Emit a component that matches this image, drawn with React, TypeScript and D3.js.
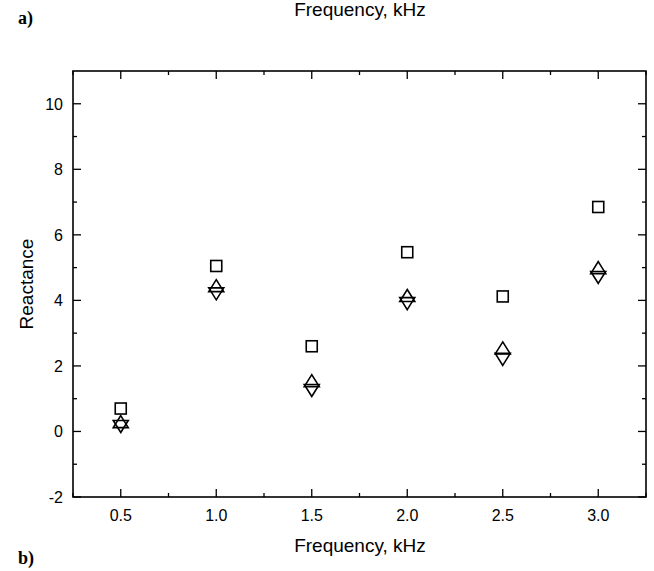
import { useEffect, useRef } from 'react';
import * as d3 from 'd3';

const freqs = [0.5, 1.0, 1.5, 2.0, 2.5, 3.0];
const squareVals = [0.7, 5.05, 2.6, 5.47, 4.12, 6.85];
const upVals = [0.3, 4.45, 1.55, 4.15, 2.55, 5.0];
const downVals = [0.15, 4.2, 1.25, 3.9, 2.2, 4.7];
const xTicks = [0.5, 1.0, 1.5, 2.0, 2.5, 3.0];
const yTicks = [-2, 0, 2, 4, 6, 8, 10];

export default function App() {
  const svgRef = useRef<SVGSVGElement>(null);

  useEffect(() => {
    const W = 654, H = 571;
    const m = { left: 73, top: 71, right: 8, bottom: 74 };
    const svg = d3.select(svgRef.current).attr('width', W).attr('height', H);
    svg.selectAll('*').remove();

    const x = d3.scaleLinear().domain([0.25, 3.25]).range([m.left, W - m.right]);
    const y = d3.scaleLinear().domain([-2, 11]).range([H - m.bottom, m.top]);
    const font = 'Liberation Sans, Arial, sans-serif';

    // frame
    svg.append('rect')
      .attr('x', x(0.25)).attr('y', y(11))
      .attr('width', x(3.25) - x(0.25)).attr('height', y(-2) - y(11))
      .attr('fill', 'none').attr('stroke', '#000').attr('stroke-width', 1.6);

    const minorX = d3.range(0.25, 3.26, 0.25).filter(v => !xTicks.some(t => Math.abs(t - v) < 1e-6));
    const minorY = d3.range(-1, 11, 2);
    const g = svg.append('g').attr('stroke', '#000').attr('stroke-width', 1.3);

    // ticks on all four sides, pointing inward
    xTicks.forEach(t => {
      g.append('line').attr('x1', x(t)).attr('x2', x(t)).attr('y1', y(-2)).attr('y2', y(-2) - 8);
      g.append('line').attr('x1', x(t)).attr('x2', x(t)).attr('y1', y(11)).attr('y2', y(11) + 8);
    });
    minorX.forEach(t => {
      g.append('line').attr('x1', x(t)).attr('x2', x(t)).attr('y1', y(-2)).attr('y2', y(-2) - 4);
      g.append('line').attr('x1', x(t)).attr('x2', x(t)).attr('y1', y(11)).attr('y2', y(11) + 4);
    });
    yTicks.forEach(t => {
      g.append('line').attr('x1', x(0.25)).attr('x2', x(0.25) + 8).attr('y1', y(t)).attr('y2', y(t));
      g.append('line').attr('x1', x(3.25)).attr('x2', x(3.25) - 8).attr('y1', y(t)).attr('y2', y(t));
    });
    minorY.forEach(t => {
      g.append('line').attr('x1', x(0.25)).attr('x2', x(0.25) + 4).attr('y1', y(t)).attr('y2', y(t));
      g.append('line').attr('x1', x(3.25)).attr('x2', x(3.25) - 4).attr('y1', y(t)).attr('y2', y(t));
    });

    // tick labels
    svg.selectAll('.xl').data(xTicks).enter().append('text')
      .attr('x', d => x(d)).attr('y', y(-2) + 24)
      .attr('text-anchor', 'middle').attr('font-family', font).attr('font-size', 16)
      .text(d => d.toFixed(1));
    svg.selectAll('.yl').data(yTicks).enter().append('text')
      .attr('x', x(0.25) - 10).attr('y', d => y(d)).attr('dy', '0.36em')
      .attr('text-anchor', 'end').attr('font-family', font).attr('font-size', 16)
      .text(d => d);

    // axis titles
    svg.append('text').attr('x', 360).attr('y', 552)
      .attr('text-anchor', 'middle').attr('font-family', font).attr('font-size', 19)
      .text('Frequency, kHz');
    svg.append('text').attr('x', 360).attr('y', 16)
      .attr('text-anchor', 'middle').attr('font-family', font).attr('font-size', 19)
      .text('Frequency, kHz');
    svg.append('text').attr('transform', `translate(33,${(y(-2) + y(11)) / 2}) rotate(-90)`)
      .attr('text-anchor', 'middle').attr('font-family', font).attr('font-size', 19)
      .text('Reactance');

    // panel letters
    const serif = 'Liberation Serif, Times New Roman, serif';
    svg.append('text').attr('x', 18).attr('y', 24).attr('font-family', serif)
      .attr('font-weight', 'bold').attr('font-size', 18).text('a)');
    svg.append('text').attr('x', 18).attr('y', 564).attr('font-family', serif)
      .attr('font-weight', 'bold').attr('font-size', 18).text('b)');

    const marks = svg.append('g').attr('fill', 'none').attr('stroke', '#000').attr('stroke-width', 1.6);
    const s = 5.5;
    marks.selectAll('.sq').data(freqs).enter().append('rect')
      .attr('x', (d) => x(d) - s).attr('y', (d, i) => y(squareVals[i]) - s)
      .attr('width', 2 * s).attr('height', 2 * s);
    const tw = 7.5, th = 6;
    marks.selectAll('.up').data(freqs).enter().append('path')
      .attr('d', (d, i) => {
        const cx = x(d), cy = y(upVals[i]);
        return `M${cx},${cy - th}L${cx + tw},${cy + th}L${cx - tw},${cy + th}Z`;
      });
    marks.selectAll('.dn').data(freqs).enter().append('path')
      .attr('d', (d, i) => {
        const cx = x(d), cy = y(downVals[i]);
        return `M${cx},${cy + th}L${cx + tw},${cy - th}L${cx - tw},${cy - th}Z`;
      });
  }, []);

  return <svg ref={svgRef} style={{ position: 'absolute', left: 0, top: 0 }} />;
}
